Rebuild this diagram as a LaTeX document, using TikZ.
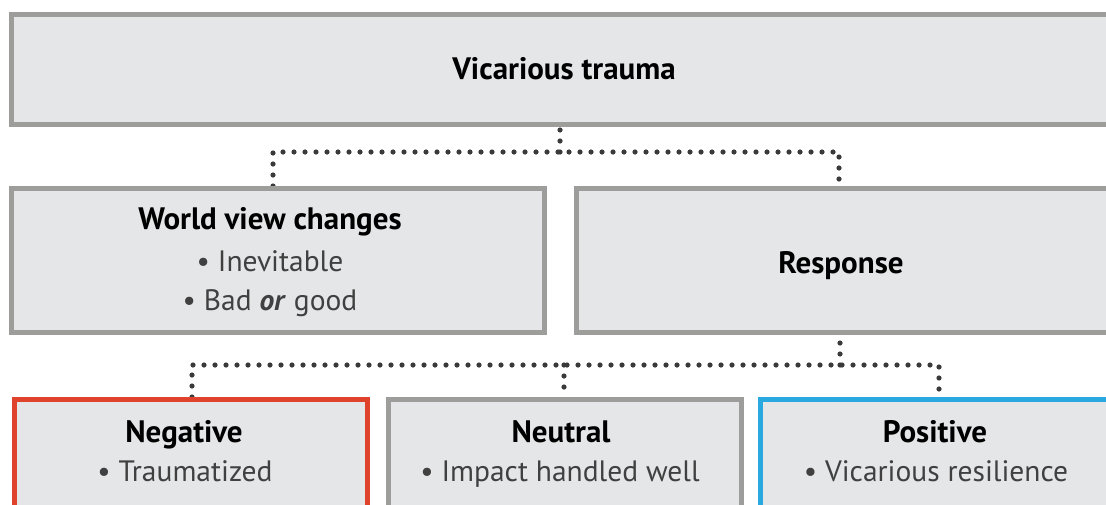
\documentclass[tikz,border=0pt]{standalone}
\usepackage{fontspec}
\setmainfont{PT Sans}
\usetikzlibrary{backgrounds}
\definecolor{boxfill}{HTML}{E5E6E7}
\definecolor{boxgray}{HTML}{9D9E9B}
\definecolor{negred}{HTML}{E0432B}
\definecolor{posblue}{HTML}{2AA9E0}
\definecolor{dotgray}{HTML}{3A3A3A}
\definecolor{bodytext}{HTML}{404040}
\tikzset{
  box/.style={draw=boxgray, line width=5pt, fill=boxfill, rectangle, inner sep=0pt},
  dotline/.style={draw=dotgray, line width=5.2pt, line cap=round, dash pattern=on 0pt off 11pt},
  head/.style={anchor=base, inner sep=0pt, text=black, font=\bfseries\fontsize{31}{32}\selectfont},
  item/.style={anchor=base, inner sep=0pt, text=bodytext, font=\fontsize{29.5}{32}\selectfont},
}
\begin{document}
\begin{tikzpicture}[x=1pt, y=-1pt]
\useasboundingbox (0,0) rectangle (1106,504);
\clip (0,0) rectangle (1106,504);
% boxes
\node[box, minimum width=1116pt, minimum height=110pt] (top) at (569.5,69.5) {};
\node[box, minimum width=533pt, minimum height=144pt] (world) at (278,260.5) {};
\node[box, minimum width=551pt, minimum height=144pt] (resp) at (852,260.5) {};
\node[box, draw=negred, minimum width=353pt, minimum height=158pt] (neg) at (191,478.5) {};
\node[box, minimum width=353pt, minimum height=158pt] (neu) at (565,478.5) {};
\node[box, draw=posblue, minimum width=367pt, minimum height=158pt] (pos) at (944,478.5) {};
% texts
\node[head] (ttop) at (564,79) {Vicarious trauma};
\node[head] (tworld) at (270,229) {World view changes};
\node[item] (tw1) at (270,271) {\textbullet\ Inevitable};
\node[item] (tw2) at (270,310) {\textbullet\ Bad \textbf{\textit{or}} good};
\node[head] (tresp) at (841,273) {Response};
\node[head] (tneg) at (184,442) {Negative};
\node[item] (tneg1) at (185,481) {\textbullet\ Traumatized};
\node[head] (tneu) at (561,442) {Neutral};
\node[item] (tneu1) at (560,481) {\textbullet\ Impact handled well};
\node[head] (tpos) at (935,442) {Positive};
\node[item] (tpos1) at (936,481) {\textbullet\ Vicarious resilience};
% connectors
\coordinate (j1) at (560,152);
\coordinate (a1) at (273,152);
\coordinate (a2) at (839,152);
\coordinate (j2) at (840,365);
\coordinate (b1) at (192,365);
\coordinate (b2) at (564,365);
\coordinate (b3) at (939,365);
\begin{scope}[on background layer]
  \draw[dotline] (j1) -- (j1 |- top.south);
  \draw[dotline] (a1 |- world.north) -- (a1) -- (a2) -- (a2 |- resp.north);
  \draw[dotline] (j2) -- (j2 |- resp.south);
  \draw[dotline] (b1 |- neg.north) -- (b1) -- (b3) -- (b3 |- pos.north);
  \draw[dotline] (b2) -- (b2 |- neu.north);
\end{scope}
\end{tikzpicture}
\end{document}
